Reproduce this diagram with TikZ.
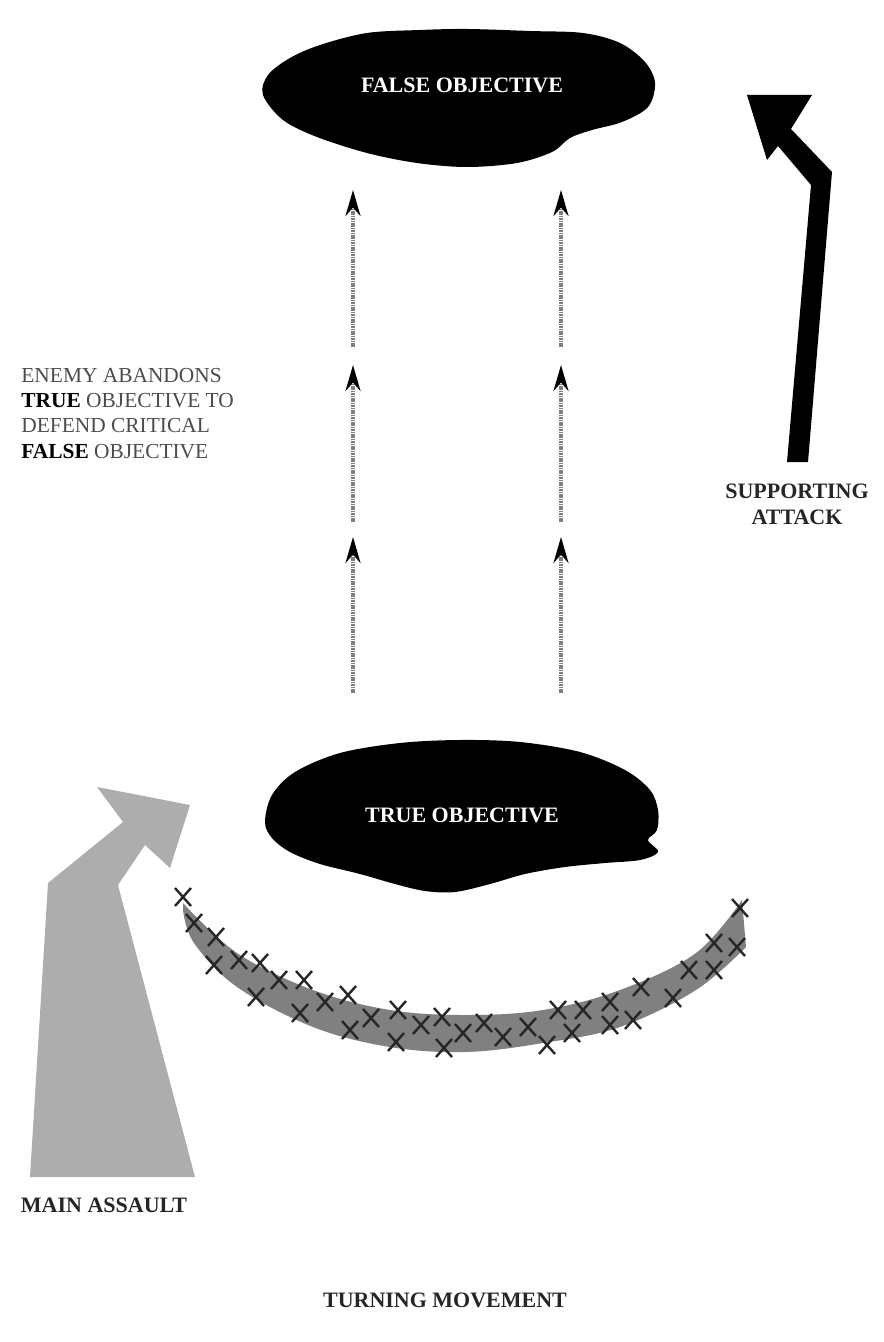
\documentclass[tikz,border=0pt]{standalone}
\usepackage{fontspec}
\setmainfont{Liberation Serif}
\usetikzlibrary{positioning,arrows.meta}

\begin{document}
\begin{tikzpicture}[
  x=0.5pt, y=-0.5pt,
  blob/.style={fill=black, draw=none},
  blobtext/.style={text=white, font=\fontsize{11}{13}\selectfont\bfseries},
  lab/.style={font=\fontsize{11}{13}\selectfont\bfseries, align=center, text=black!85},
  note/.style={font=\fontsize{10.7}{12.6}\selectfont, align=left, text=black!70, anchor=north west, inner sep=0pt},
  march/.style={draw=black!50, line width=1.7pt, dash pattern=on 0.8pt off 0.4pt, -{Stealth[length=13pt, width=7.5pt, color=black]}},
  band/.style={fill=black!50, draw=none},
  enemyx/.style={draw=black!85, line width=1.2pt},
  supp/.style={fill=black, draw=none},
  mainarr/.style={fill=black!32, draw=none}
]
\useasboundingbox (0,0) rectangle (883,1342);

% false objective
\fill[blob] plot[smooth cycle, tension=0.55] coordinates {
  (263,95) (268,75) (290,58) (320,45) (367,33) (420,30) (467,29) (530,31)
  (583,33) (620,43) (645,62) (655,83) (648,107) (622,122) (592,130) (570,138)
  (552,152) (517,163) (467,167) (417,163) (367,153) (317,137) (283,120)};
\node[blobtext] (falseobj) at (462,85) {FALSE OBJECTIVE};

% true objective
\fill[blob] plot[smooth cycle, tension=0.55] coordinates {
  (265,822) (272,795) (295,772) (340,753) (400,743) (460,740) (520,742)
  (580,752) (625,770) (650,790) (658,810) (657,830) (648,840) (658,852)
  (640,860) (605,863) (565,867) (525,874) (490,884) (455,892) (425,891)
  (395,884) (360,874) (320,864) (290,852) (272,838)};
\node[blobtext] (trueobj) at (462,815) {TRUE OBJECTIVE};

% enemy moving from true to false objective
\foreach \x/\c in {353/l,561/r}
  \foreach \i/\b/\t in {1/347/190,2/522/365,3/693/537} {
    \coordinate (\c\i-s) at (\x,\b);
    \coordinate (\c\i-e) at (\x,\t);
    \draw[march] (\c\i-s) -- (\c\i-e);
  }

\node[note] (abandon) at (21,368) {ENEMY ABANDONS\\
{\color{black}\bfseries TRUE} OBJECTIVE TO\\
DEFEND CRITICAL\\
{\color{black}\bfseries FALSE} OBJECTIVE};

% supporting attack
\fill[supp] (747,95) -- (812,95) -- (791,129) -- (832,172) -- (808,462)
  -- (787,462) -- (811,185) -- (778,146) -- (767,160) -- cycle;
\node[lab] (support) at (797,504) {SUPPORTING\\ATTACK};

% main assault
\fill[mainarr] (30,1177) -- (48,883) -- (123,822) -- (97,787) -- (190,805)
  -- (170,868) -- (145,845) -- (118,885) -- (195,1177) -- cycle;
\node[lab] (mainassault) at (104,1205) {MAIN ASSAULT};

% enemy line
\fill[band] plot[smooth, tension=0.6] coordinates {
  (183,903) (237,953) (313,990) (390,1010) (466,1015) (543,1010) (620,990)
  (696,953) (742,900)}
  -- plot[smooth, tension=0.6] coordinates {
  (746,947) (696,990) (620,1027) (543,1043) (466,1052) (390,1047) (313,1027)
  (237,987) (194,943) (183,910)} -- cycle;
\foreach \px/\py in {183/897,194/923,216/937,214/965,239/960,260/963,256/997,
  279/980,304/980,300/1013,325/1002,348/995,350/1030,371/1018,398/1010,
  396/1042,421/1025,442/1017,444/1048,463/1033,484/1023,503/1037,528/1027,
  547/1045,558/1010,572/1033,583/1010,610/1002,610/1025,633/1020,641/987,
  673/998,689/970,714/970,714/943,737/947,740/908}
  \draw[enemyx] (\px-8,\py-9) -- (\px+8,\py+9) (\px-8,\py+9) -- (\px+8,\py-9);

\node[lab] (title) at (445,1300) {TURNING MOVEMENT};
\end{tikzpicture}
\end{document}
